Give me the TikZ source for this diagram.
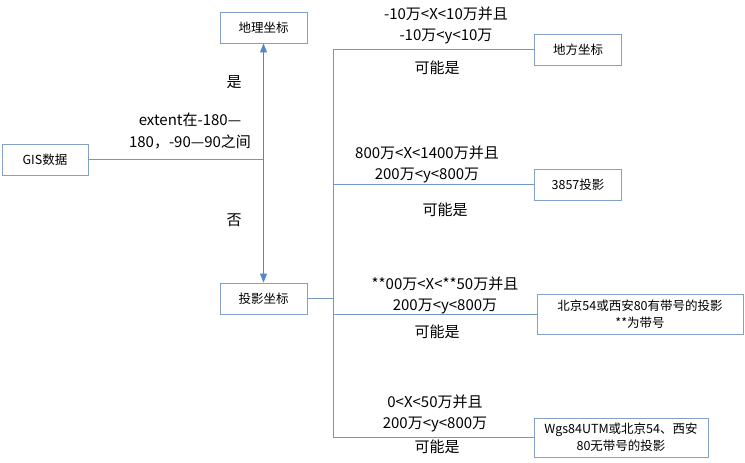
\documentclass[tikz,border=0pt]{standalone}
\usepackage{fontspec}
\setmainfont{Noto Sans CJK SC}
\usepackage{tikz}
\usetikzlibrary{
    positioning,
    arrows.meta
}
\definecolor{boxBlue}{RGB}{130, 160, 200}
\definecolor{lineBlue}{RGB}{115, 150, 195}
\definecolor{tipBlue}{RGB}{85, 135, 200}

\begin{document}
\begin{tikzpicture}[x=1pt, y=-1pt, >={Triangle[width=7pt,length=9pt]},
        box/.style={draw=boxBlue, line width=0.9pt, minimum width=87pt, minimum height=31pt,
            inner sep=1pt, align=center, font=\fontsize{12.5}{17}\selectfont},
        cond/.style={align=center, font=\fontsize{15}{21.5}\selectfont},
        link/.style={lineBlue, line width=0.9pt}]
        \useasboundingbox (0,0) rectangle (745,463);

        \node[box, minimum width=86pt] (gis) at (45,159.5) {GIS数据};
        \node[box] (geo) at (263.5,27.5) {地理坐标};
        \node[box] (proj) at (263.5,298.5) {投影坐标};
        \node[box] (local) at (578,49.5) {地方坐标};
        \node[box] (merc) at (578,184.5) {3857投影};
        \node[box, minimum width=206pt, minimum height=40pt] (band) at (640,314) {北京54或西安80有带号的投影\\**为带号};
        \node[box, minimum width=174pt, minimum height=39pt] (utm) at (621,437.5) {Wgs84UTM或北京54、西安\\80无带号的投影};

        \coordinate (fork) at (263.5,159.5);
        \coordinate (bus) at (333,298.5);

        \draw[link] (gis.east) -- (fork);
        \draw[link, ->, tipBlue] (fork) -- (geo.south);
        \draw[link, ->, tipBlue] (fork) -- (proj.north);

        \draw[link] (proj.east) -- (bus);
        \draw[link] (local.west -| bus) -- (utm.west -| bus);
        \draw[link] (local.west -| bus) -- (local.west);
        \draw[link] (merc.west -| bus) -- (merc.west);
        \draw[link] (band.west -| bus) -- (band.west);
        \draw[link] (utm.west -| bus) -- (utm.west);

        \node[cond] at (234,82) {是};
        \node[cond] at (190,131) {extent在-180—\\180，-90—90之间};
        \node[cond] at (234,220) {否};

        \node[cond] at (446,25.5) {-10万<X<10万并且\\-10万<y<10万};
        \node[cond] at (437,68) {可能是};
        \node[cond] at (427,164.5) {800万<X<1400万并且\\200万<y<800万};
        \node[cond] at (445,210) {可能是};
        \node[cond] at (445,295.5) {**00万<X<**50万并且\\200万<y<800万};
        \node[cond] at (437,332) {可能是};
        \node[cond] at (435,413.5) {0<X<50万并且\\200万<y<800万};
        \node[cond] at (437,447) {可能是};
    \end{tikzpicture}
\end{document}
